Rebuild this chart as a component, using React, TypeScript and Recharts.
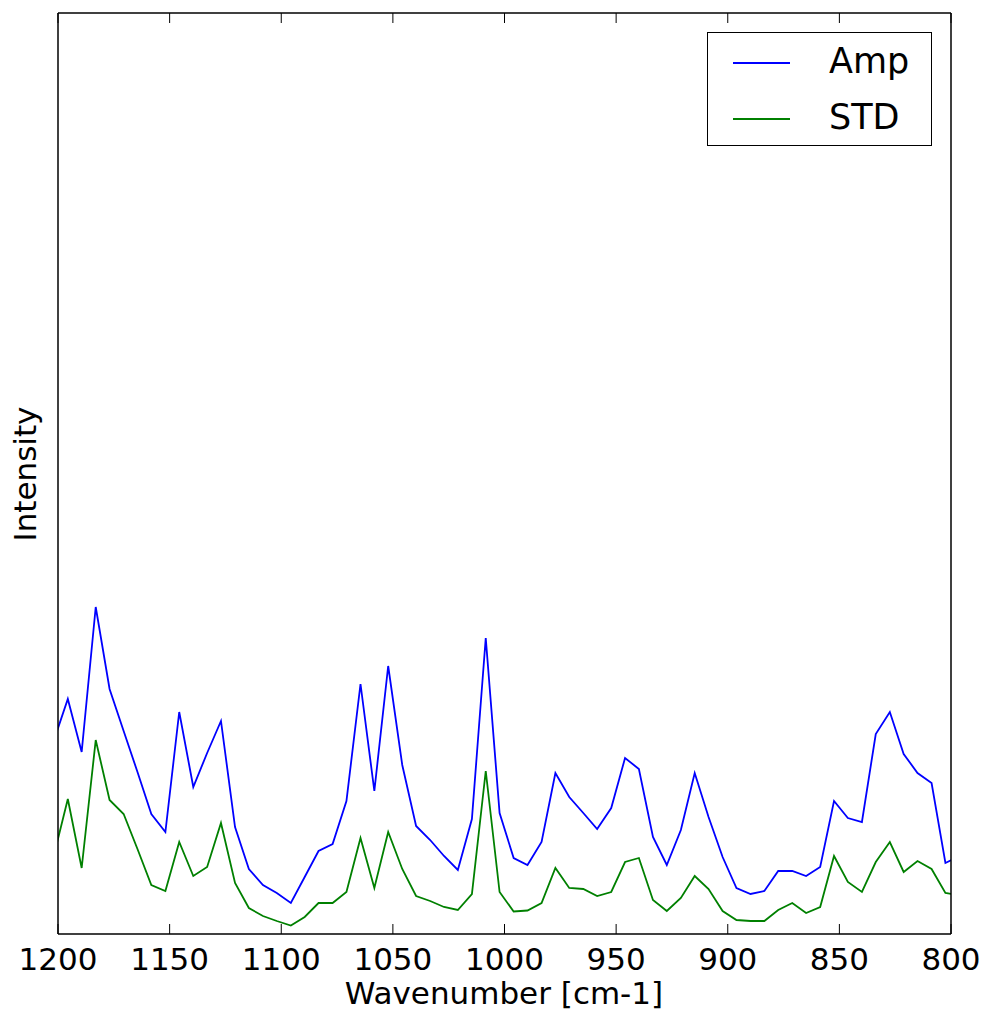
import React from 'react';
import { LineChart, Line, XAxis, YAxis, Legend } from 'recharts';

// wavenumbers of the sampled points (first and last lie just outside the shown range)
const wavenumbers = [
    1201.8, 1195.6, 1189.4, 1183.1, 1176.9, 1170.6, 1164.4, 1158.2, 1151.9, 1145.7,
    1139.4, 1133.2, 1127.0, 1120.7, 1114.5, 1108.2, 1102.0, 1095.7, 1089.5, 1083.3,
    1077.0, 1070.8, 1064.5, 1058.3, 1052.1, 1045.8, 1039.6, 1033.3, 1027.1, 1020.9,
    1014.6, 1008.4, 1002.2, 995.9, 989.7, 983.4, 977.2, 971.0, 964.7, 958.5,
    952.2, 946.0, 939.8, 933.5, 927.3, 921.0, 914.8, 908.6, 902.3, 896.1,
    889.8, 883.6, 877.4, 871.1, 864.9, 858.6, 852.4, 846.2, 839.9, 833.7,
    827.4, 821.2, 815.0, 808.7, 802.5, 796.2,
];

const amp = [
    194, 235, 182, 327, 245, 203, 162, 120, 102, 222,
    147, 181, 213, 107, 65, 49, 41, 31, 57, 83,
    90, 133, 250, 143, 268, 169, 108, 94, 78, 64,
    115, 296, 121, 76, 69, 92, 161, 137, 121, 105,
    126, 176, 165, 97, 69, 104, 161, 117, 77, 46,
    40, 43, 63, 63, 58, 67, 133, 116, 112, 200,
    222, 180, 161, 151, 71, 78,
];

const std = [
    79, 135, 66, 194, 134, 120, 85, 49, 43, 92,
    58, 67, 111, 51, 26, 18, 13, 8.5, 17, 31,
    31, 42, 96, 46, 102, 65, 38, 33, 27, 24,
    40, 163, 42, 22.5, 23.5, 31, 66, 46, 45, 38,
    42, 72, 76, 34, 23, 36, 58, 45, 23, 14,
    13, 13, 24, 31, 21, 27, 78, 52, 42, 72,
    92, 62, 73, 65, 41, 39,
];

const xTicks = [1200, 1150, 1100, 1050, 1000, 950, 900, 850, 800];

const data = wavenumbers.map((w, i) => ({ w, amp: amp[i], std: std[i] }));

const FONT = 'DejaVu Sans';
const PLOT_TOP = 13;

// bottom tick: inward mark + label, plus the matching inward mark on the top edge
const BottomTick = (props: any) => {
    const { x, y, payload } = props;
    return (
        <g>
            <line x1={x} y1={y} x2={x} y2={y - 10} stroke="#000" strokeWidth={1} />
            <line x1={x} y1={PLOT_TOP} x2={x} y2={PLOT_TOP + 10} stroke="#000" strokeWidth={1} />
            <text x={x} y={y + 36} textAnchor="middle" fontFamily={FONT} fontSize={31} fill="#000">
                {payload.value}
            </text>
        </g>
    );
};

const LegendBox = () => (
    <div
        style={{
            width: 223,
            height: 112,
            border: '1.5px solid #000',
            background: '#fff',
            position: 'relative',
            fontFamily: FONT,
            fontSize: 35,
            color: '#000',
        }}
    >
        {[
            { name: 'Amp', color: '#0000ff', top: 29 },
            { name: 'STD', color: '#008000', top: 85 },
        ].map((item) => (
            <div key={item.name}>
                <div
                    style={{
                        position: 'absolute',
                        left: 25,
                        top: item.top,
                        width: 57,
                        height: 0,
                        borderTop: `2px solid ${item.color}`,
                    }}
                />
                <div style={{ position: 'absolute', left: 121, top: item.top - 22, lineHeight: '42px' }}>
                    {item.name}
                </div>
            </div>
        ))}
    </div>
);

export default function App() {
    return (
        <div style={{ position: 'absolute', left: 0, top: 0, background: '#fff' }}>
            <LineChart width={983} height={1015} data={data} margin={{ top: 12, right: 31, bottom: 0, left: 57 }}>
                <XAxis
                    dataKey="w"
                    type="number"
                    domain={[800, 1200]}
                    reversed
                    allowDataOverflow
                    ticks={xTicks}
                    interval={0}
                    height={81}
                    tickSize={0}
                    tickMargin={0}
                    tickLine={false}
                    axisLine={{ stroke: '#000', strokeWidth: 1.5 }}
                    tick={<BottomTick />}
                    label={{
                        content: () => (
                            <text x={504} y={1004} textAnchor="middle" fontFamily={FONT} fontSize={31} fill="#000">
                                Wavenumber [cm-1]
                            </text>
                        ),
                    }}
                />
                <XAxis
                    xAxisId="top"
                    orientation="top"
                    dataKey="w"
                    type="number"
                    domain={[800, 1200]}
                    reversed
                    allowDataOverflow
                    height={1}
                    tick={false}
                    tickLine={false}
                    axisLine={{ stroke: '#000', strokeWidth: 1.5 }}
                />
                <YAxis
                    type="number"
                    domain={[0, 921]}
                    allowDataOverflow
                    width={1}
                    tick={false}
                    tickLine={false}
                    axisLine={{ stroke: '#000', strokeWidth: 1.5 }}
                    label={{
                        content: () => (
                            <text
                                x={25}
                                y={474}
                                transform="rotate(-90 25 474)"
                                textAnchor="middle"
                                dominantBaseline="central"
                                fontFamily={FONT}
                                fontSize={31}
                                fill="#000"
                            >
                                Intensity
                            </text>
                        ),
                    }}
                />
                <YAxis
                    yAxisId="right"
                    orientation="right"
                    type="number"
                    domain={[0, 921]}
                    width={1}
                    tick={false}
                    tickLine={false}
                    axisLine={{ stroke: '#000', strokeWidth: 1.5 }}
                />
                <Legend
                    layout="vertical"
                    align="center"
                    verticalAlign="middle"
                    content={<LegendBox />}
                    wrapperStyle={{ left: 707, top: 32, width: 226, height: 115 }}
                />
                <Line
                    dataKey="amp"
                    name="Amp"
                    stroke="#0000ff"
                    strokeWidth={1.8}
                    dot={false}
                    activeDot={false}
                    isAnimationActive={false}
                />
                <Line
                    dataKey="std"
                    name="STD"
                    stroke="#008000"
                    strokeWidth={1.8}
                    dot={false}
                    activeDot={false}
                    isAnimationActive={false}
                />
            </LineChart>
        </div>
    );
}
